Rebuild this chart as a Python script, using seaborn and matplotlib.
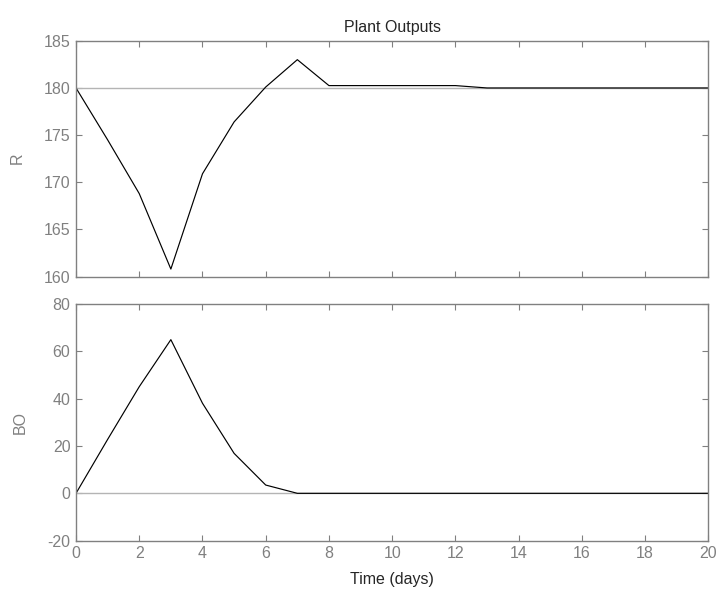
import numpy as np
import pandas as pd
import matplotlib
matplotlib.use("Agg")
import matplotlib.pyplot as plt
import seaborn as sns

days = list(range(0, 21))
r_values = [180.0, 174.5, 168.8, 160.8, 170.9, 176.4, 180.1, 183.0, 180.25, 180.25,
            180.25, 180.25, 180.25, 180.0, 180.0, 180.0, 180.0, 180.0, 180.0, 180.0, 180.0]
bo_values = [0.0, 22.8, 45.1, 65.0, 38.1, 16.9, 3.5, 0.0, 0.0, 0.0,
             0.0, 0.0, 0.0, 0.0, 0.0, 0.0, 0.0, 0.0, 0.0, 0.0, 0.0]
r_ref = 180
bo_ref = 0
x_ticks = list(range(0, 21, 2))
r_ticks = [160, 165, 170, 175, 180, 185]
bo_ticks = [-20, 0, 20, 40, 60, 80]

sns.set_theme(style="white")
plt.rcParams['font.family'] = ['Liberation Sans', 'DejaVu Sans']
plt.rcParams['axes.unicode_minus'] = False

df = pd.DataFrame({"day": days, "R": r_values, "BO": bo_values})

fig = plt.figure(figsize=(7.17, 6.0), dpi=100)
ax1 = fig.add_axes([0.106, 0.539, 0.882, 0.393])
ax2 = fig.add_axes([0.106, 0.099, 0.882, 0.394])

gray = "#808080"
for ax, col, ref, yt, lim in [(ax1, "R", r_ref, r_ticks, (160, 185)),
                              (ax2, "BO", bo_ref, bo_ticks, (-20, 80))]:
    ax.axhline(ref, color="#b4b4b4", lw=1.0, zorder=1)
    sns.lineplot(data=df, x="day", y=col, ax=ax, color="black", lw=0.85, zorder=2)
    ax.set_xlim(0, 20)
    ax.set_ylim(*lim)
    ax.set_xticks(x_ticks)
    ax.set_yticks(yt)
    ax.tick_params(direction="in", length=4, width=0.8, color=gray, labelcolor=gray,
                   labelsize=11.5, top=True, right=True, bottom=True, left=True, pad=4)
    for s in ax.spines.values():
        s.set_color(gray)
        s.set_linewidth(1.0)
    ax.set_ylabel(col, color=gray, fontsize=11.5, labelpad=14)

ax1.set_xlabel("")
ax1.tick_params(labelbottom=False)
ax1.set_title("Plant Outputs", fontsize=11.5, color="#262626", pad=6)
ax2.set_xlabel("Time (days)", fontsize=11.5, color="#262626", labelpad=8)

fig.savefig("out.png", dpi=100)
